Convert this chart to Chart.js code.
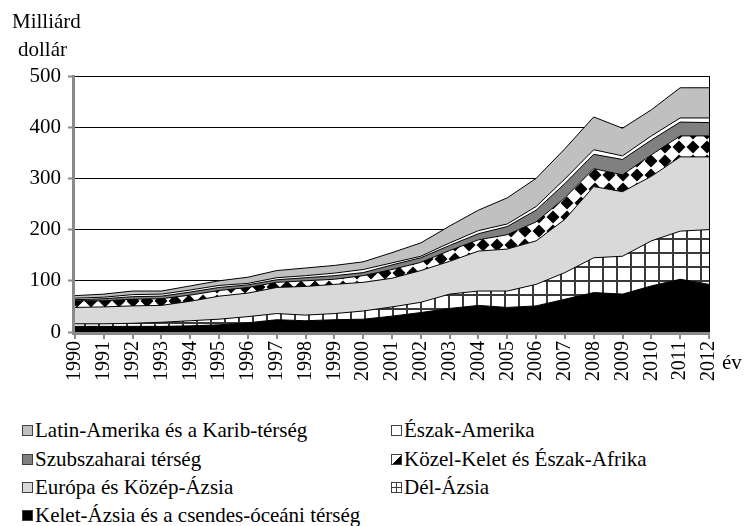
<!DOCTYPE html>
<html>
<head>
<meta charset="utf-8">
<script src="https://cdn.jsdelivr.net/npm/chart.js@4.4.1/dist/chart.umd.min.js"></script>
<style>
    body { margin: 0; background: #fff; }
    #wrap { position: relative; width: 749px; height: 526px; font-family: "Liberation Serif", "Times New Roman", serif; }
    #chartBox { position: absolute; left: 0; top: 0; width: 749px; height: 410px; }
    .legend-item { position: absolute; font-size: 21px; line-height: 21px; color: #000; white-space: nowrap; }
    .legend-item .box { display: inline-block; width: 9px; height: 9px; border: 1px solid #404040; margin-right: 2px; vertical-align: 1px; }
</style>
</head>
<body>
<div id="wrap">
    <div id="chartBox"><canvas id="remitChart"></canvas></div>
    <div id="legend"></div>
</div>
<script>
// Data (milliard dollar)
const years = ['1990','1991','1992','1993','1994','1995','1996','1997','1998','1999','2000','2001',
               '2002','2003','2004','2005','2006','2007','2008','2009','2010','2011','2012'];
const keletAzsia = [11,11,11,11,12,14,18,24,22,24,25,31,38,46,52,48,51,64,77,74,90,103,93];
const delAzsia   = [5,5,6,8,10,11,12,12,11,12,16,18,20,28,28,32,42,52,68,74,88,94,107];
const europa     = [32,33,34,33,38,45,46,51,56,57,56,56,62,64,78,82,85,104,139,126,126,145,142];
const kozelKelet = [13,12,13,13,12,11,11,10,11,10,13,17,16,21,22,28,37,42,35,33,42,41,41];
const szubszahar = [2,4,5,5,6,6,5,5,6,7,6,9,9,10,12,16,23,28,28,30,29,27,26];
const eszakAmer  = [3,3,4,4,4,4,3,4,4,5,6,4,3,5,6,5,7,9,9,7,8,8,9];
const latinAmer  = [5,6,7,6,8,9,12,14,15,15,15,20,26,33,40,51,55,59,64,54,51,59,59];
const yTicks = [0,100,200,300,400,500];

const serif = '"Liberation Serif", "Times New Roman", serif';
const axisGray = '#8a8a8a';

// Patterns
function gridPattern() {
    const c = document.createElement('canvas');
    c.width = 14; c.height = 14;
    const g = c.getContext('2d');
    g.fillStyle = '#fff';
    g.fillRect(0, 0, 14, 14);
    g.fillStyle = '#3a3a3a';
    g.fillRect(0, 0, 2, 14);
    g.fillRect(0, 0, 14, 2);
    return g.createPattern(c, 'repeat');
}

function diamondPattern() {
    const c = document.createElement('canvas');
    c.width = 14; c.height = 14;
    const g = c.getContext('2d');
    g.fillStyle = '#fff';
    g.fillRect(0, 0, 14, 14);
    g.fillStyle = '#000';
    g.beginPath();
    g.moveTo(7, 0.5); g.lineTo(13.5, 7); g.lineTo(7, 13.5); g.lineTo(0.5, 7);
    g.closePath();
    g.fill();
    return g.createPattern(c, 'repeat');
}

// Axis lines on top of the areas, right border, captions
const extrasPlugin = {
    id: 'extras',
    afterDatasetsDraw(chart) {
        const ctx = chart.ctx;
        const area = chart.chartArea;
        ctx.save();
        ctx.strokeStyle = '#000';
        ctx.lineWidth = 1;
        ctx.beginPath();
        ctx.moveTo(area.right + 0.5, area.top);
        ctx.lineTo(area.right + 0.5, area.bottom);
        ctx.stroke();
        ctx.strokeStyle = axisGray;
        ctx.lineWidth = 3;
        ctx.beginPath();
        ctx.moveTo(area.left - 1.5, area.top - 1);
        ctx.lineTo(area.left - 1.5, area.bottom + 1.5);
        ctx.lineTo(area.right + 1, area.bottom + 1.5);
        ctx.stroke();
        ctx.restore();
    },
    afterDraw(chart) {
        const ctx = chart.ctx;
        ctx.save();
        ctx.fillStyle = '#000';
        ctx.font = '21px ' + serif;
        ctx.textAlign = 'left';
        ctx.textBaseline = 'alphabetic';
        ctx.fillText('Milliárd', 12, 28);
        ctx.fillText('dollár', 18, 56);
        ctx.fillText('év', 722, 369);
        ctx.restore();
    }
};

function makeChart() {
    const ctx = document.getElementById('remitChart').getContext('2d');
    const base = { borderColor: '#000', borderWidth: 1, pointRadius: 0, tension: 0 };

    new Chart(ctx, {
        type: 'line',
        data: {
            labels: years,
            datasets: [
                { ...base, label: 'Kelet-Ázsia és a csendes-óceáni térség', data: keletAzsia, backgroundColor: '#000', fill: 'origin' },
                { ...base, label: 'Dél-Ázsia', data: delAzsia, backgroundColor: gridPattern(), fill: '-1' },
                { ...base, label: 'Európa és Közép-Ázsia', data: europa, backgroundColor: '#d9d9d9', fill: '-1' },
                { ...base, label: 'Közel-Kelet és Észak-Afrika', data: kozelKelet, backgroundColor: diamondPattern(), fill: '-1' },
                { ...base, label: 'Szubszaharai térség', data: szubszahar, backgroundColor: '#808080', fill: '-1' },
                { ...base, label: 'Észak-Amerika', data: eszakAmer, backgroundColor: '#fff', fill: '-1' },
                { ...base, label: 'Latin-Amerika és a Karib-térség', data: latinAmer, backgroundColor: '#c0c0c0', fill: '-1' }
            ]
        },
        options: {
            responsive: true,
            maintainAspectRatio: false,
            animation: false,
            layout: { padding: { top: 76, right: 40, left: 0, bottom: 0 } },
            plugins: {
                legend: { display: false },
                tooltip: { enabled: false }
            },
            scales: {
                x: {
                    offset: false,
                    afterFit: s => { s.height = 78; },
                    grid: { drawOnChartArea: false, drawTicks: true, tickLength: 7, color: axisGray, lineWidth: 2 },
                    border: { display: false },
                    ticks: {
                        font: { family: serif, size: 20 },
                        color: '#000',
                        minRotation: 90,
                        maxRotation: 90,
                        autoSkip: false,
                        padding: 2
                    }
                },
                y: {
                    stacked: true,
                    min: yTicks[0],
                    max: yTicks[yTicks.length - 1],
                    afterFit: s => { s.width = 75; },
                    afterBuildTicks: s => { s.ticks = yTicks.map(v => ({ value: v })); },
                    grid: { color: '#000', lineWidth: 1, tickColor: axisGray, tickWidth: 2, tickLength: 7, drawTicks: true },
                    border: { display: false },
                    ticks: {
                        font: { family: serif, size: 21 },
                        color: '#000',
                        padding: 7
                    }
                }
            }
        },
        plugins: [extrasPlugin]
    });
}

// HTML legend in two columns
function renderLegend() {
    const items = [
        { text: 'Latin-Amerika és a Karib-térség', x: 22, y: 420, bg: '#c0c0c0' },
        { text: 'Észak-Amerika', x: 391, y: 420, bg: '#fff' },
        { text: 'Szubszaharai térség', x: 22, y: 449, bg: '#808080' },
        { text: 'Közel-Kelet és Észak-Afrika', x: 391, y: 449, bg: 'linear-gradient(to bottom right, #fff 50%, #000 50%)' },
        { text: 'Európa és Közép-Ázsia', x: 22, y: 477, bg: '#d9d9d9' },
        { text: 'Dél-Ázsia', x: 391, y: 477, bg: 'linear-gradient(#404040,#404040) center/100% 1px no-repeat, linear-gradient(#404040,#404040) center/1px 100% no-repeat, #fff' },
        { text: 'Kelet-Ázsia és a csendes-óceáni térség', x: 22, y: 505, bg: '#000' }
    ];
    const legend = document.getElementById('legend');
    legend.innerHTML = items.map(it => `
        <div class="legend-item" style="left:${it.x}px; top:${it.y}px;">
            <span class="box" style="background:${it.bg};"></span>${it.text}
        </div>`).join('');
}

document.addEventListener('DOMContentLoaded', function() {
    makeChart();
    renderLegend();
});
</script>
</body>
</html>
